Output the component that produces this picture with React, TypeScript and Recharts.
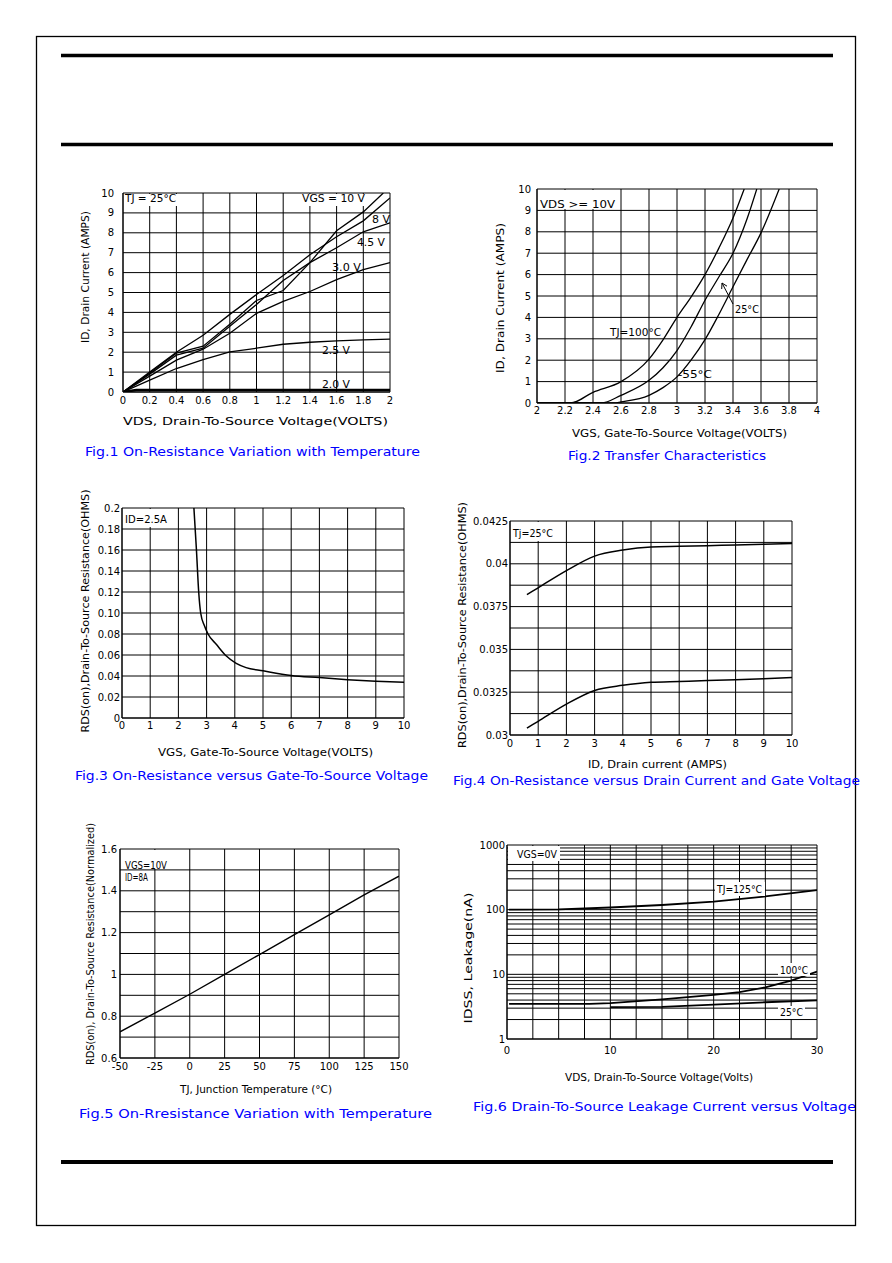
import React from 'react';
import { LineChart, Line, XAxis, YAxis, CartesianGrid } from 'recharts';

type Pt = { x: number; y: number };

// ---------- Fig.1 Output characteristics (ID vs VDS) ----------
const fig1XTicks = [0, 0.2, 0.4, 0.6, 0.8, 1, 1.2, 1.4, 1.6, 1.8, 2];
const fig1YTicks = [0, 1, 2, 3, 4, 5, 6, 7, 8, 9, 10];
const fig1Vgs10: Pt[] = [
  { x: 0, y: 0 }, { x: 0.2, y: 0.95 }, { x: 0.4, y: 1.95 }, { x: 0.6, y: 2.3 }, { x: 0.8, y: 3.4 },
  { x: 1.0, y: 4.6 }, { x: 1.2, y: 5.1 }, { x: 1.4, y: 6.5 }, { x: 1.6, y: 8.1 }, { x: 1.8, y: 9.05 }, { x: 1.95, y: 10 },
];
const fig1Vgs8: Pt[] = [
  { x: 0, y: 0 }, { x: 0.2, y: 1.0 }, { x: 0.4, y: 2.0 }, { x: 0.6, y: 2.85 }, { x: 0.8, y: 3.9 },
  { x: 1.0, y: 4.9 }, { x: 1.2, y: 5.85 }, { x: 1.4, y: 6.9 }, { x: 1.6, y: 7.8 }, { x: 1.8, y: 8.6 }, { x: 2.0, y: 9.75 },
];
const fig1Vgs45: Pt[] = [
  { x: 0, y: 0 }, { x: 0.2, y: 0.9 }, { x: 0.4, y: 1.85 }, { x: 0.6, y: 2.2 }, { x: 0.8, y: 3.3 },
  { x: 1.0, y: 4.4 }, { x: 1.2, y: 5.6 }, { x: 1.4, y: 6.5 }, { x: 1.6, y: 7.25 }, { x: 1.8, y: 8.05 }, { x: 2.0, y: 8.5 },
];
const fig1Vgs3: Pt[] = [
  { x: 0, y: 0 }, { x: 0.2, y: 0.8 }, { x: 0.4, y: 1.6 }, { x: 0.6, y: 2.15 }, { x: 0.8, y: 2.95 },
  { x: 1.0, y: 3.95 }, { x: 1.2, y: 4.55 }, { x: 1.4, y: 5.05 }, { x: 1.6, y: 5.65 }, { x: 1.8, y: 6.15 }, { x: 2.0, y: 6.5 },
];
const fig1Vgs25: Pt[] = [
  { x: 0, y: 0 }, { x: 0.2, y: 0.6 }, { x: 0.4, y: 1.18 }, { x: 0.6, y: 1.63 }, { x: 0.8, y: 2.02 },
  { x: 1.0, y: 2.2 }, { x: 1.2, y: 2.4 }, { x: 1.4, y: 2.5 }, { x: 1.6, y: 2.57 }, { x: 1.8, y: 2.62 }, { x: 2.0, y: 2.66 },
];
const fig1Vgs2: Pt[] = [{ x: 0, y: 0 }, { x: 0.1, y: 0.1 }, { x: 2.0, y: 0.1 }];

// ---------- Fig.2 Transfer characteristics ----------
const fig2XTicks = [2, 2.2, 2.4, 2.6, 2.8, 3, 3.2, 3.4, 3.6, 3.8, 4];
const fig2YTicks = [0, 1, 2, 3, 4, 5, 6, 7, 8, 9, 10];
const fig2Tj100: Pt[] = [
  { x: 2, y: 0 }, { x: 2.24, y: 0 }, { x: 2.4, y: 0.5 }, { x: 2.6, y: 1.0 }, { x: 2.8, y: 2.05 },
  { x: 2.9, y: 2.95 }, { x: 3.0, y: 4.0 }, { x: 3.1, y: 4.95 }, { x: 3.2, y: 6.0 }, { x: 3.3, y: 7.25 },
  { x: 3.4, y: 8.65 }, { x: 3.48, y: 10 },
];
const fig2Tj25: Pt[] = [
  { x: 2, y: 0 }, { x: 2.46, y: 0 }, { x: 2.6, y: 0.36 }, { x: 2.8, y: 1.06 }, { x: 2.9, y: 1.65 },
  { x: 3.0, y: 2.45 }, { x: 3.1, y: 3.55 }, { x: 3.2, y: 4.8 }, { x: 3.3, y: 5.9 }, { x: 3.4, y: 7.0 },
  { x: 3.5, y: 8.6 }, { x: 3.57, y: 10 },
];
const fig2TjM55: Pt[] = [
  { x: 2, y: 0 }, { x: 2.55, y: 0 }, { x: 2.6, y: 0.05 }, { x: 2.8, y: 0.36 }, { x: 2.9, y: 0.72 },
  { x: 3.0, y: 1.22 }, { x: 3.1, y: 2.0 }, { x: 3.2, y: 2.96 }, { x: 3.3, y: 4.15 }, { x: 3.4, y: 5.43 },
  { x: 3.5, y: 6.7 }, { x: 3.6, y: 7.95 }, { x: 3.73, y: 10 },
];

// ---------- Fig.3 RDS(on) vs VGS ----------
const fig3XTicks = [0, 1, 2, 3, 4, 5, 6, 7, 8, 9, 10];
const fig3YTicks = [0, 0.02, 0.04, 0.06, 0.08, 0.1, 0.12, 0.14, 0.16, 0.18, 0.2];
const fig3YLabels = ['0', '0.02', '0.04', '0.06', '0.08', '0.10', '0.12', '0.14', '0.16', '0.18', '0.2'];
const fig3Rds: Pt[] = [
  { x: 2.55, y: 0.2 }, { x: 2.64, y: 0.16 }, { x: 2.72, y: 0.12 }, { x: 2.79, y: 0.1 }, { x: 2.92, y: 0.088 },
  { x: 3.05, y: 0.08 }, { x: 3.35, y: 0.07 }, { x: 3.7, y: 0.059 }, { x: 4.05, y: 0.052 }, { x: 4.4, y: 0.048 },
  { x: 5, y: 0.045 }, { x: 6, y: 0.0405 }, { x: 7, y: 0.0385 }, { x: 8, y: 0.0365 }, { x: 9, y: 0.035 }, { x: 10, y: 0.034 },
];

// ---------- Fig.4 RDS(on) vs ID ----------
const fig4XTicks = [0, 1, 2, 3, 4, 5, 6, 7, 8, 9, 10];
const fig4YTicks = [0.03, 0.03125, 0.0325, 0.03375, 0.035, 0.03625, 0.0375, 0.03875, 0.04, 0.04125, 0.0425];
const fig4YLabels = ['0.03', '', '0.0325', '', '0.035', '', '0.0375', '', '0.04', '', '0.0425'];
const fig4Upper: Pt[] = [
  { x: 0.6, y: 0.0382 }, { x: 1, y: 0.0386 }, { x: 2, y: 0.0396 }, { x: 3, y: 0.04045 }, { x: 4, y: 0.0408 },
  { x: 5, y: 0.04098 }, { x: 6, y: 0.04102 }, { x: 7, y: 0.04106 }, { x: 8, y: 0.0411 }, { x: 9, y: 0.04114 }, { x: 10, y: 0.04119 },
];
const fig4Lower: Pt[] = [
  { x: 0.6, y: 0.0304 }, { x: 1, y: 0.0308 }, { x: 2, y: 0.0318 }, { x: 3, y: 0.0326 }, { x: 4, y: 0.0329 },
  { x: 5, y: 0.03308 }, { x: 6, y: 0.03313 }, { x: 7, y: 0.03318 }, { x: 8, y: 0.03323 }, { x: 9, y: 0.03329 }, { x: 10, y: 0.03336 },
];

// ---------- Fig.5 Normalized RDS(on) vs TJ ----------
const fig5XTicks = [-50, -25, 0, 25, 50, 75, 100, 125, 150];
const fig5YTicks = [0.6, 0.7, 0.8, 0.9, 1, 1.1, 1.2, 1.3, 1.4, 1.5, 1.6];
const fig5YLabels = ['0.6', '', '0.8', '', '1', '', '1.2', '', '1.4', '', '1.6'];
const fig5Rds: Pt[] = [
  { x: -50, y: 0.725 }, { x: -25, y: 0.815 }, { x: 0, y: 0.905 }, { x: 25, y: 1.0 }, { x: 50, y: 1.095 },
  { x: 75, y: 1.19 }, { x: 100, y: 1.285 }, { x: 125, y: 1.38 }, { x: 150, y: 1.47 },
];

// ---------- Fig.6 IDSS leakage vs VDS ----------
const fig6XTicks = [0, 2.5, 5, 7.5, 10, 12.5, 15, 17.5, 20, 22.5, 25, 27.5, 30];
const fig6XLabels = ['0', '', '', '', '10', '', '', '', '20', '', '', '', '30'];
const fig6YTicks = [1, 2, 3, 4, 5, 6, 7, 8, 9, 10, 20, 30, 40, 50, 60, 70, 80, 90, 100, 200, 300, 400, 500, 600, 700, 800, 900, 1000];
const fig6YLabeled = [1, 10, 100, 1000];
const fig6Tj125: Pt[] = [
  { x: 0.2, y: 100 }, { x: 5, y: 101 }, { x: 10, y: 108 }, { x: 15, y: 118 }, { x: 20, y: 133 }, { x: 25, y: 160 }, { x: 30, y: 200 },
];
const fig6Tj100: Pt[] = [
  { x: 0.2, y: 3.5 }, { x: 8, y: 3.5 }, { x: 10, y: 3.6 }, { x: 15, y: 4.1 }, { x: 20, y: 4.8 }, { x: 22.5, y: 5.3 },
  { x: 25, y: 6.3 }, { x: 27.5, y: 8 }, { x: 30, y: 11 },
];
const fig6Tj25: Pt[] = [
  { x: 10, y: 3.1 }, { x: 15, y: 3.15 }, { x: 20, y: 3.4 }, { x: 25, y: 3.7 }, { x: 30, y: 3.95 },
];

const FONT = '"DejaVu Sans", "Liberation Sans", sans-serif';
const BLUE = '#0000ff';

type Series = { data: Pt[]; width?: number; curve?: 'linear' | 'monotone' };

interface PanelProps {
  plot: [number, number, number, number];
  xDomain: [number, number];
  yDomain: [number, number];
  xTicks: number[];
  yTicks: number[];
  xFmt?: (v: number, i: number) => string;
  yFmt?: (v: number, i: number) => string;
  series: Series[];
  yLog?: boolean;
  xGap: number;
  yGap: number;
}

const tickStyle = { fontSize: 10, fontFamily: FONT, fill: '#000' };

function Panel(p: PanelProps) {
  const [px, py, pw, ph] = p.plot;
  const padL = 70, padT = 12, padR = 12, padB = 30;
  return (
    <div style={{ position: 'absolute', left: px - padL, top: py - padT }}>
      <LineChart
        width={pw + padL + padR}
        height={ph + padT + padB}
        margin={{ top: padT, right: padR, bottom: 0, left: 0 }}
      >
        <CartesianGrid stroke="#000" strokeWidth={1} syncWithTicks />
        <XAxis
          type="number"
          dataKey="x"
          domain={p.xDomain}
          ticks={p.xTicks}
          interval={0}
          allowDataOverflow
          tickLine={false}
          tickSize={0}
          tickMargin={p.xGap}
          tickFormatter={p.xFmt as any}
          axisLine={{ stroke: '#000' }}
          height={padB}
          tick={tickStyle}
        />
        <YAxis
          type="number"
          scale={p.yLog ? 'log' : 'linear'}
          domain={p.yDomain}
          ticks={p.yTicks}
          interval={0}
          allowDataOverflow
          tickLine={false}
          tickSize={0}
          tickMargin={p.yGap}
          tickFormatter={p.yFmt as any}
          axisLine={{ stroke: '#000' }}
          width={padL}
          tick={tickStyle}
        />
        {p.series.map((s, i) => (
          <Line
            key={i}
            data={s.data}
            dataKey="y"
            type={s.curve || 'linear'}
            stroke="#000"
            strokeWidth={s.width || 1.3}
            dot={false}
            activeDot={false}
            isAnimationActive={false}
          />
        ))}
      </LineChart>
    </div>
  );
}

function T(props: {
  x: number; y: number; len?: number; size?: number; fill?: string; anchor?: 'start' | 'middle' | 'end';
  rot?: boolean; weight?: string | number; children: React.ReactNode;
}) {
  const { x, y, len, size = 10, fill = '#000', anchor = 'start', rot, weight } = props;
  return (
    <text
      x={x}
      y={y}
      fontSize={size}
      fontFamily={FONT}
      fill={fill}
      fontWeight={weight}
      textAnchor={anchor}
      textLength={len}
      lengthAdjust={len ? 'spacingAndGlyphs' : undefined}
      dominantBaseline={rot ? 'central' : undefined}
      transform={rot ? `rotate(-90 ${x} ${y})` : undefined}
    >
      {props.children}
    </text>
  );
}

const W = (x: number, y: number, w: number, h: number) => (
  <rect x={x} y={y} width={w} height={h} fill="#fff" />
);

export default function App() {
  const lbl = (arr: string[]) => (_v: number, i: number) => arr[i] ?? '';
  return (
    <div style={{ position: 'absolute', left: 0, top: 0, width: 892, height: 1263, background: '#fff' }}>
      <Panel
        plot={[123, 193, 267, 199]}
        xDomain={[0, 2]} yDomain={[0, 10]} xTicks={fig1XTicks} yTicks={fig1YTicks}
        xGap={5} yGap={9}
        series={[
          { data: fig1Vgs10 }, { data: fig1Vgs8 }, { data: fig1Vgs45 }, { data: fig1Vgs3 },
          { data: fig1Vgs25 }, { data: fig1Vgs2, width: 2.6 },
        ]}
      />
      <Panel
        plot={[537, 189, 280, 214]}
        xDomain={[2, 4]} yDomain={[0, 10]} xTicks={fig2XTicks} yTicks={fig2YTicks}
        xGap={4} yGap={6}
        series={[
          { data: fig2Tj100, curve: 'monotone' }, { data: fig2Tj25, curve: 'monotone' }, { data: fig2TjM55, curve: 'monotone' },
        ]}
      />
      <Panel
        plot={[122, 508, 282, 210]}
        xDomain={[0, 10]} yDomain={[0, 0.2]} xTicks={fig3XTicks} yTicks={fig3YTicks}
        yFmt={lbl(fig3YLabels)}
        xGap={4} yGap={2}
        series={[{ data: fig3Rds, curve: 'monotone', width: 1.5 }]}
      />
      <Panel
        plot={[510, 521, 282, 214]}
        xDomain={[0, 10]} yDomain={[0.03, 0.0425]} xTicks={fig4XTicks} yTicks={fig4YTicks}
        yFmt={lbl(fig4YLabels)}
        xGap={5} yGap={2}
        series={[{ data: fig4Upper, curve: 'monotone', width: 1.5 }, { data: fig4Lower, curve: 'monotone', width: 1.5 }]}
      />
      <Panel
        plot={[120, 849, 279, 209]}
        xDomain={[-50, 150]} yDomain={[0.6, 1.6]} xTicks={fig5XTicks} yTicks={fig5YTicks}
        yFmt={lbl(fig5YLabels)}
        xGap={5} yGap={3}
        series={[{ data: fig5Rds, width: 1.4 }]}
      />
      <Panel
        plot={[507, 845, 310, 194]}
        xDomain={[0, 30]} yDomain={[1, 1000]} xTicks={fig6XTicks} yTicks={fig6YTicks} yLog
        xFmt={lbl(fig6XLabels)}
        yFmt={(v: number) => (fig6YLabeled.includes(v) ? String(v) : '')}
        xGap={8} yGap={2}
        series={[{ data: fig6Tj125, width: 1.8 }, { data: fig6Tj100, width: 1.8 }, { data: fig6Tj25, width: 1.8 }]}
      />

      <svg
        width={892}
        height={1263}
        style={{ position: 'absolute', left: 0, top: 0, pointerEvents: 'none' }}
      >
        {/* page frame and rules */}
        <rect x={36.5} y={36.5} width={819} height={1189} fill="none" stroke="#000" strokeWidth={1.3} />
        <line x1={61} x2={833} y1={55.5} y2={55.5} stroke="#000" strokeWidth={3.5} />
        <line x1={61} x2={833} y1={144.5} y2={144.5} stroke="#000" strokeWidth={3.5} />
        <line x1={61} x2={833} y1={1162} y2={1162} stroke="#000" strokeWidth={4} />

        {/* Fig.1 */}
        {W(124, 194, 56, 12)}
        {W(300, 194, 68, 12)}
        <T x={125} y={201.6} len={51}>TJ = 25°C</T>
        <T x={302} y={201.6} len={63}>VGS = 10 V</T>
        <T x={372} y={222.6} len={18}>8 V</T>
        <T x={357} y={245.6} len={28}>4.5 V</T>
        <T x={332} y={270.6} len={29}>3.0 V</T>
        <T x={322} y={353.6} len={28}>2.5 V</T>
        <T x={322} y={387.6} len={28}>2.0 V</T>
        <T x={123} y={424.5} len={265}>VDS, Drain-To-Source Voltage(VOLTS)</T>
        <T x={85} y={277} len={132} anchor="middle" rot>ID, Drain Current (AMPS)</T>
        <T x={85} y={456} len={335} size={12} fill={BLUE}>Fig.1  On-Resistance  Variation  with  Temperature</T>

        {/* Fig.2 */}
        {W(538, 190, 80, 19)}
        <T x={540} y={207.6} len={75}>VDS  &gt;=  10V</T>
        <T x={610} y={336.3} len={51}>TJ=100°C</T>
        <T x={735} y={312.6} len={24}>25°C</T>
        <line x1={733} y1={304} x2={722} y2={283} stroke="#000" strokeWidth={1} />
        <polyline points="721.7,289 722,283 727,286.2" fill="none" stroke="#000" strokeWidth={1} />
        <T x={678} y={377.6} len={34}>-55°C</T>
        <T x={572} y={436.5} len={215}>VGS, Gate-To-Source Voltage(VOLTS)</T>
        <T x={500} y={298} len={150} anchor="middle" rot>ID, Drain Current (AMPS)</T>
        <T x={568} y={460} len={198} size={12} fill={BLUE}>Fig.2  Transfer  Characteristics</T>

        {/* Fig.3 */}
        {W(123, 509, 48, 18)}
        <T x={125} y={522.6} len={42}>ID=2.5A</T>
        <T x={158} y={755.5} len={215}>VGS, Gate-To-Source Voltage(VOLTS)</T>
        <T x={85} y={611} len={243} anchor="middle" rot>RDS(on),Drain-To-Source Resistance(OHMS)</T>
        <T x={75} y={780} len={353} size={12} fill={BLUE}>Fig.3  On-Resistance  versus  Gate-To-Source  Voltage</T>

        {/* Fig.4 */}
        {W(511, 522, 46, 19)}
        <T x={513} y={536.6} len={40}>Tj=25°C</T>
        <T x={588} y={767.5} len={139}>ID, Drain current (AMPS)</T>
        <T x={462} y={625} len={246} anchor="middle" rot>RDS(on),Drain-To-Source Resistance(OHMS)</T>
        <T x={453} y={785} len={407} size={12} fill={BLUE}>Fig.4  On-Resistance  versus  Drain  Current  and  Gate  Voltage</T>

        {/* Fig.5 */}
        {W(121, 850, 50, 19)}
        {W(121, 871, 30, 12)}
        <T x={125} y={869} len={42}>VGS=10V</T>
        <T x={125} y={880.6} len={23}>ID=8A</T>
        <T x={180} y={1092.5} len={152}>TJ, Junction Temperature (°C)</T>
        <T x={90} y={944} len={242} anchor="middle" rot>RDS(on), Drain-To-Source Resistance(Normalized)</T>
        <T x={79} y={1118} len={353} size={12} fill={BLUE}>Fig.5  On-Rresistance  Variation  with  Temperature</T>

        {/* Fig.6 */}
        {W(508, 846, 52, 15)}
        <T x={517} y={857.6} len={40}>VGS=0V</T>
        {W(715, 882, 50, 14)}
        <T x={717} y={892.6} len={45}>TJ=125°C</T>
        {W(778, 963, 32, 13)}
        <T x={780} y={973.6} len={28}>100°C</T>
        {W(778, 1006, 27, 13)}
        <T x={780} y={1016.3} len={23}>25°C</T>
        <T x={565} y={1080.5} len={188}>VDS, Drain-To-Source Voltage(Volts)</T>
        <T x={468} y={958} len={131} anchor="middle" rot>IDSS, Leakage(nA)</T>
        <T x={473} y={1111} len={383} size={12} fill={BLUE}>Fig.6  Drain-To-Source  Leakage  Current  versus  Voltage</T>
      </svg>
    </div>
  );
}
